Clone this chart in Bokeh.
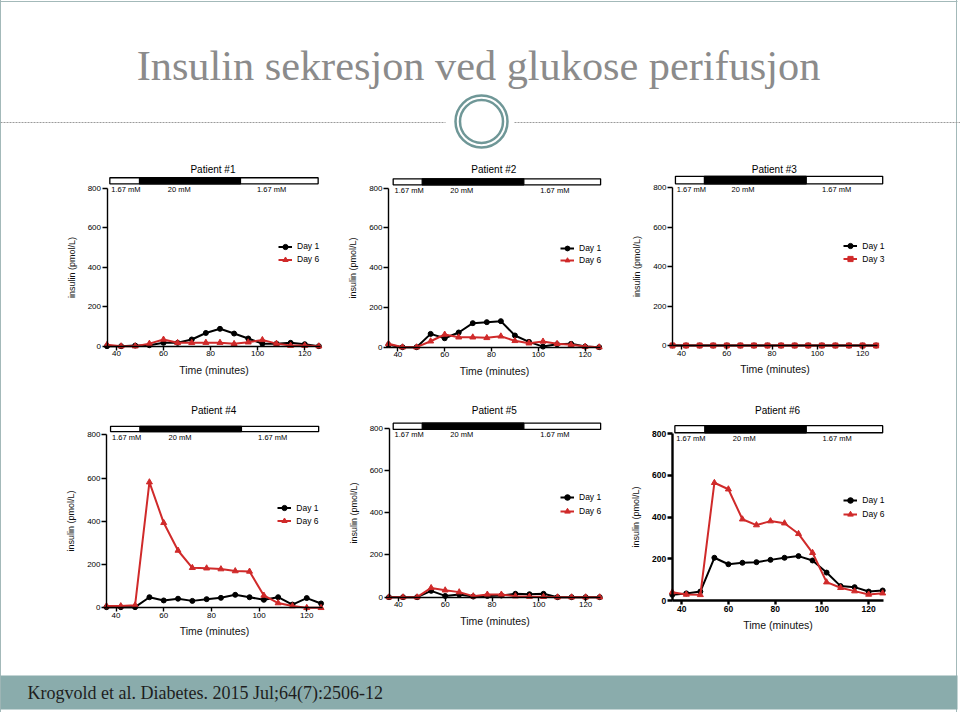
from bokeh.plotting import figure
from bokeh.layouts import column, row
from bokeh.models import Range1d, FixedTicker, Legend, LegendItem, ColumnDataSource
from bokeh.core.properties import value
from bokeh.embed import file_html
from bokeh.resources import INLINE

# ---------------- data ----------------
time_min = [36, 42, 48, 54, 60, 66, 72, 78, 84, 90, 96, 102, 108, 114, 120, 126]

p1_day1 = [0, 0, 3, 5, 17, 17, 34, 67, 88, 64, 39, 13, 13, 17, 10, 0]
p1_day6 = [7, 0, 0, 13, 34, 17, 17, 18, 18, 12, 20, 32, 13, 3, 3, 0]

p2_day1 = [12, 0, 0, 67, 45, 74, 121, 126, 131, 59, 27, 3, 15, 17, 3, 0]
p2_day6 = [17, 0, 0, 30, 64, 50, 50, 47, 55, 32, 20, 29, 17, 12, 3, 0]

p3_day1 = [0, 0, 0, 0, 0, 0, 0, 0, 0, 0, 0, 0, 0, 0, 0, 0]
p3_day3 = [0, 0, 0, 0, 0, 0, 0, 0, 0, 0, 0, 0, 0, 0, 0, 0]

p4_day1 = [3, 3, 3, 49, 34, 42, 32, 40, 46, 60, 49, 37, 49, 15, 45, 20]
p4_day6 = [8, 8, 12, 581, 393, 265, 185, 183, 179, 170, 168, 57, 22, 8, 0, 0]

p5_day1 = [0, 0, 0, 30, 6, 13, 3, 6, 8, 16, 14, 16, 0, 0, 0, 0]
p5_day6 = [0, 0, 0, 44, 33, 24, 5, 13, 13, 5, 3, 2, 0, 0, 0, 0]

p6_day1 = [27, 34, 43, 205, 174, 181, 184, 195, 205, 213, 192, 134, 69, 64, 43, 48]
p6_day6 = [40, 29, 27, 565, 534, 390, 362, 381, 371, 320, 229, 88, 61, 45, 29, 35]

patient_titles = ["Patient #1", "Patient #2", "Patient #3", "Patient #4", "Patient #5", "Patient #6"]
second_day_labels = ["Day 6", "Day 6", "Day 3", "Day 6", "Day 6", "Day 6"]
glucose_labels = ["1.67 mM", "20 mM", "1.67 mM"]
# glucose protocol phase edges (minutes) as drawn in each panel
glucose_edges = [
    [37.2, 49.8, 92.7, 125.7],
    [38.0, 50.4, 93.8, 126.6],
    [37.3, 50.1, 95.1, 128.9],
    [37.7, 50.0, 92.6, 125.0],
    [37.8, 50.2, 93.6, 126.4],
    [37.1, 49.9, 93.3, 126.0],
]
x_ticks = [40, 60, 80, 100, 120]
y_ticks = [0, 200, 400, 600, 800]

RED = "#d02a2a"
SANS = "Liberation Sans"
SERIF = "Liberation Serif"

# ---------------- layout geometry (pixels of the slide) ----------------
geom = [
    dict(box=(0, 150, 325, 242), ax=106.5, sx=2.354, ay0=345.7, ay8=187.7,
         bary=(822, 853), ty=169.3, leg=(278, 246, 13.3), bold=False, mk="triangle"),
    dict(box=(325, 150, 285, 242), ax=388.0, sx=2.341, ay0=346.7, ay8=187.7,
         bary=(817, 847), ty=169.3, leg=(560, 247.3, 12.5), bold=False, mk="triangle"),
    dict(box=(610, 150, 350, 242), ax=672.0, sx=2.2625, ay0=345.0, ay8=187.3,
         bary=(820, 858), ty=169.3, leg=(843.3, 246, 12.7), bold=False, mk="square"),
    dict(box=(0, 392, 325, 280), ax=106.0, sx=2.384, ay0=607.3, ay8=434.3,
         bary=(815, 839), ty=410, leg=(277.3, 507.7, 13.0), bold=False, mk="triangle"),
    dict(box=(325, 392, 285, 280), ax=388.5, sx=2.341, ay0=596.7, ay8=427.7,
         bary=(794, 824), ty=410, leg=(560, 497.3, 14.0), bold=False, mk="triangle"),
    dict(box=(610, 392, 350, 280), ax=671.8, sx=2.3375, ay0=600.0, ay8=433.3,
         bary=(805, 839), ty=410, leg=(843.3, 500, 14.0), bold=True, mk="triangle"),
]

series = [(p1_day1, p1_day6), (p2_day1, p2_day6), (p3_day1, p3_day3),
          (p4_day1, p4_day6), (p5_day1, p5_day6), (p6_day1, p6_day6)]


def make_panel(i):
    g = geom[i]
    d1, d2 = series[i]
    fx0, fy0, fw, fh = g["box"]
    ax, sx, ay0, ay8 = g["ax"], g["sx"], g["ay0"], g["ay8"]
    sy = (ay0 - ay8) / 800.0
    x_start = 36 - (ax - fx0) / sx
    x_end = 36 + (fx0 + fw - ax) / sx
    y_start = -(fy0 + fh - ay0) / sy
    y_end = (ay0 - fy0) / sy

    p = figure(width=fw, height=fh, output_backend="svg", toolbar_location=None,
               x_range=Range1d(x_start, x_end), y_range=Range1d(y_start, y_end),
               min_border=0, border_fill_color=None, background_fill_color=None,
               outline_line_color=None)
    p.grid.visible = False

    aw = 2.4 if g["bold"] else 1.4
    fs = "bold" if g["bold"] else "normal"
    for axis in (p.xaxis, p.yaxis):
        axis.axis_line_width = aw
        axis.axis_line_color = "black"
        axis.major_tick_line_width = aw
        axis.major_tick_line_color = "black"
        axis.minor_tick_line_color = None
        axis.major_tick_in = 0
        axis.major_label_text_font = SANS
        axis.major_label_text_font_size = "8.5px" if g["bold"] else "8px"
        axis.major_label_text_font_style = fs
        axis.major_label_text_color = "black"
        axis.axis_label_text_font = SANS
        axis.axis_label_text_font_style = "normal"
        axis.axis_label_text_color = "#111111"
    p.xaxis.fixed_location = 0
    p.yaxis.fixed_location = 36
    p.xaxis.bounds = (36, 126.5)
    p.yaxis.bounds = (0, 800)
    p.xaxis.ticker = FixedTicker(ticks=x_ticks)
    p.yaxis.ticker = FixedTicker(ticks=y_ticks)
    p.xaxis.major_tick_out = 4
    p.yaxis.major_tick_out = 5
    p.xaxis.major_label_standoff = 1
    p.yaxis.major_label_standoff = 1
    p.xaxis.axis_label = "Time (minutes)"
    p.yaxis.axis_label = "insulin (pmol/L)"
    p.xaxis.axis_label_text_font_size = "10.5px"
    p.yaxis.axis_label_text_font_size = "9px"
    p.xaxis.axis_label_standoff = 4
    p.yaxis.axis_label_standoff = 8

    # glucose protocol bar
    e = glucose_edges[i]
    by0, by1 = g["bary"]
    p.quad(left=[e[0]], right=[e[3]], bottom=[by0], top=[by1],
           fill_color="white", line_color="black", line_width=1.3)
    p.quad(left=[e[1]], right=[e[2]], bottom=[by0], top=[by1],
           fill_color="black", line_color="black", line_width=1.3)
    src = ColumnDataSource(dict(x=[e[0] + 0.6, e[1] + 12.0, e[2] + 7.0],
                                y=[by0] * 3, t=glucose_labels))
    p.text(x="x", y="y", text="t", source=src, text_font=value(SANS),
           text_font_size="7.5px", text_baseline="top", text_align="left",
           y_offset=1, text_color="black")

    # title
    p.text(x=[81], y=[(ay0 - g["ty"]) / sy], text=[patient_titles[i]],
           text_font=value(SANS), text_font_size="10px", text_align="center",
           text_baseline="middle", text_color="black")

    # series
    l1 = p.line(time_min, d1, line_color="black", line_width=2)
    s1 = p.scatter(time_min, d1, marker="circle", size=5, fill_color="black",
                   line_color="black")
    l2 = p.line(time_min, d2, line_color=RED, line_width=2)
    s2 = p.scatter(time_min, d2, marker=g["mk"], size=6 if g["mk"] == "triangle" else 5,
                   fill_color=RED, line_color=RED)

    lx_px, lc_px, gap = g["leg"]
    legend = Legend(items=[LegendItem(label="Day 1", renderers=[l1, s1]),
                           LegendItem(label=second_day_labels[i], renderers=[l2, s2])],
                    location=(lx_px - fx0, fy0 + fh - (lc_px + 1.5 * gap)),
                    glyph_width=14, glyph_height=int(round(gap)),
                    label_height=int(round(gap)), label_standoff=5,
                    spacing=0, padding=0, margin=0,
                    label_text_font=SANS, label_text_font_size="8.5px",
                    label_text_color="black",
                    background_fill_alpha=0, border_line_color=None)
    p.add_layout(legend)
    return p


panels = [make_panel(i) for i in range(6)]

# ---------------- header ----------------
header = figure(width=960, height=150, output_backend="svg", toolbar_location=None,
                x_range=Range1d(0, 960), y_range=Range1d(150, 0),
                x_axis_type=None, y_axis_type=None, min_border=0,
                border_fill_color=None, background_fill_color=None,
                outline_line_color=None)
header.grid.visible = False
header.segment(x0=[0], y0=[1], x1=[957], y1=[1], line_color="#a3b9b9", line_width=1)
header.text(x=[478], y=[65], text=["Insulin sekresjon ved glukose perifusjon"],
            text_font=value(SERIF), text_font_size="42.3px", text_color="#8b8b8b",
            text_align="center", text_baseline="alphabetic")
header.segment(x0=[0, 514], y0=[122, 122], x1=[445, 960], y1=[122, 122],
               line_color="#9a9a9a", line_width=1, line_dash="2 1")
header.circle(x=[481, 481], y=[121, 121], radius=[26, 21.5], fill_color=None,
              line_color="#6f9797", line_width=2.5)

# ---------------- footer ----------------
footer = figure(width=960, height=40, output_backend="svg", toolbar_location=None,
                x_range=Range1d(0, 960), y_range=Range1d(712, 672),
                x_axis_type=None, y_axis_type=None, min_border=0,
                border_fill_color=None, background_fill_color=None,
                outline_line_color=None)
footer.grid.visible = False
footer.quad(left=[0], right=[957], top=[675], bottom=[709], fill_color="#8aacac",
            line_color=None)
footer.text(x=[27], y=[692], text=["Krogvold et al. Diabetes. 2015 Jul;64(7):2506-12"],
            text_font=value(SERIF), text_font_size="18px", text_color="#1e1e1e",
            text_align="left", text_baseline="alphabetic")

layout = column(header, row(*panels[:3]), row(*panels[3:]), footer,
                styles={"background": "linear-gradient(to right, #a3b9b9 0px, #a3b9b9 1px, "
                                      "#ffffff 1px, #ffffff 956px, #a3b9b9 956px, "
                                      "#a3b9b9 957px, #ffffff 957px)"})

open("out.html", "w").write(file_html(layout, INLINE))
